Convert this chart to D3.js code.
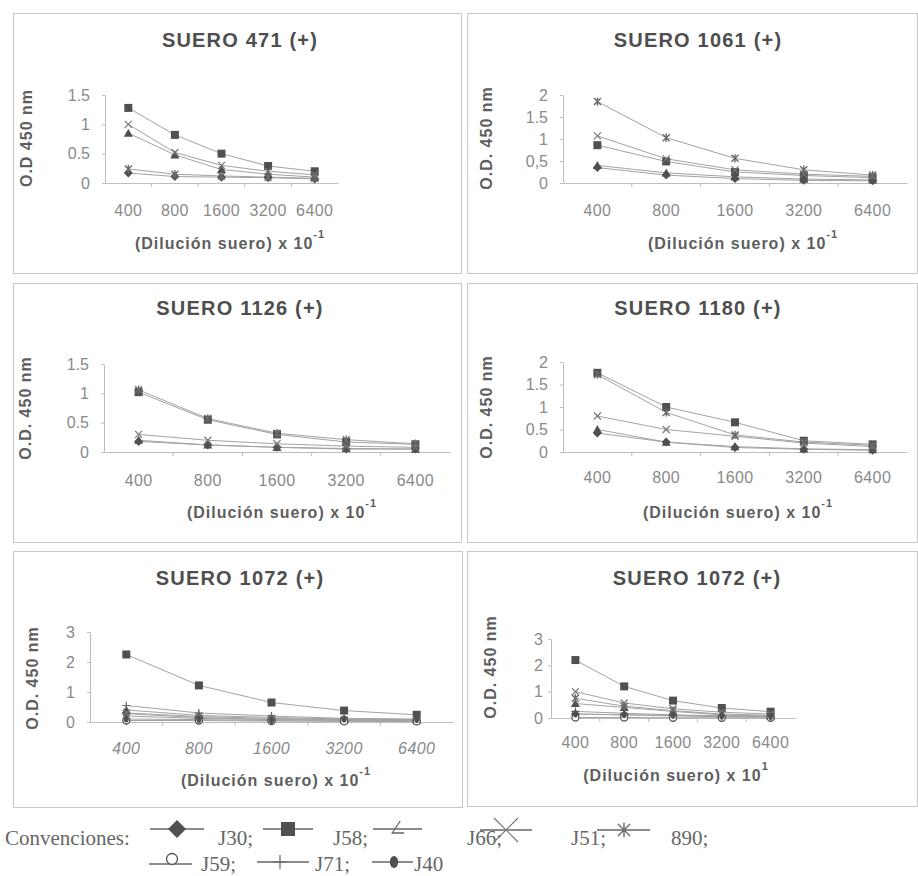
<!DOCTYPE html>
<html>
<head>
<meta charset="utf-8">
<script src="https://cdn.jsdelivr.net/npm/d3@7"></script>
<style>
  html, body { margin: 0; padding: 0; background: #fff; }
  #container { width: 918px; height: 876px; }
</style>
</head>
<body>
<div id="container"></div>
<script>
// 横轴类别：血清稀释度
const dilutions = ["400", "800", "1600", "3200", "6400"];

// 系列名称与对应的标记形状
const seriesNames = ["J30", "J58", "J66", "J51", "890", "J59", "J71", "J40"];
const seriesMarkers = ["diamond", "square", "triangle", "x", "asterisk", "circle", "plus", "dot"];

// 各子图标题与坐标轴文字
const panelTitles = ["SUERO 471 (+)", "SUERO 1061 (+)", "SUERO 1126 (+)", "SUERO 1180 (+)", "SUERO 1072 (+)", "SUERO 1072 (+)"];
const yTitles = ["O.D 450 nm", "O.D. 450 nm", "O.D. 450 nm", "O.D. 450 nm", "O.D. 450 nm", "O.D. 450 nm"];
const xTitle = "(Dilución suero) x 10";
const xTitleSup = ["-1", "-1", "-1", "-1", "-1", "1"];

// 纵轴刻度
const yTicks = [
  [0, 0.5, 1, 1.5],
  [0, 0.5, 1, 1.5, 2],
  [0, 0.5, 1, 1.5],
  [0, 0.5, 1, 1.5, 2],
  [0, 1, 2, 3],
  [0, 1, 2, 3]
];
const yTickLabels = [
  ["0", "0.5", "1", "1.5"],
  ["0", "0,5", "1", "1.5", "2"],
  ["0", "0.5", "1", "1.5"],
  ["0", "0.5", "1", "1.5", "2"],
  ["0", "1", "2", "3"],
  ["0", "1", "2", "3"]
];

// 各血清的 O.D. 数值，顺序与 seriesNames 一致（null 表示该图中没有此系列）
const suero471 = [
  [0.17, 0.11, 0.10, 0.09, 0.07],
  [1.28, 0.82, 0.50, 0.29, 0.20],
  [0.85, 0.48, 0.23, 0.15, 0.10],
  [1.00, 0.52, 0.30, 0.20, 0.14],
  [0.24, 0.15, 0.12, 0.10, 0.08],
  null, null, null
];
const suero1061 = [
  [0.35, 0.18, 0.10, 0.06, 0.05],
  [0.86, 0.49, 0.25, 0.17, 0.12],
  [0.40, 0.23, 0.14, 0.09, 0.07],
  [1.07, 0.55, 0.30, 0.20, 0.15],
  [1.85, 1.03, 0.56, 0.30, 0.18],
  null, null, null
];
const suero1126 = [
  [0.18, 0.12, 0.08, 0.05, 0.05],
  [1.02, 0.55, 0.30, 0.17, 0.13],
  [0.20, 0.12, 0.08, 0.06, 0.05],
  [0.30, 0.20, 0.14, 0.10, 0.08],
  [1.06, 0.57, 0.32, 0.21, 0.14],
  null, null, null
];
const suero1180 = [
  [0.42, 0.22, 0.10, 0.06, 0.04],
  [1.76, 1.00, 0.66, 0.25, 0.17],
  [0.50, 0.22, 0.12, 0.07, 0.05],
  [0.80, 0.50, 0.35, 0.20, 0.12],
  [1.72, 0.88, 0.38, 0.22, 0.15],
  null, null, null
];
const suero1072a = [
  [0.28, 0.15, 0.08, 0.05, 0.04],
  [2.25, 1.22, 0.65, 0.38, 0.24],
  [0.40, 0.22, 0.15, 0.10, 0.08],
  [0.30, 0.18, 0.12, 0.08, 0.06],
  [0.20, 0.12, 0.08, 0.05, 0.04],
  [0.05, 0.05, 0.03, 0.02, 0.02],
  [0.55, 0.30, 0.20, 0.12, 0.10],
  [0.10, 0.08, 0.05, 0.10, 0.08]
];
const suero1072b = [
  [0.15, 0.12, 0.08, 0.05, 0.04],
  [2.20, 1.20, 0.66, 0.38, 0.24],
  [0.55, 0.40, 0.25, 0.12, 0.08],
  [1.00, 0.57, 0.35, 0.22, 0.15],
  [0.75, 0.45, 0.28, 0.15, 0.10],
  [0.02, 0.02, 0.01, 0.01, 0.01],
  [0.25, 0.18, 0.12, 0.08, 0.06],
  [0.15, 0.12, 0.10, 0.08, 0.06]
];
const panelData = [suero471, suero1061, suero1126, suero1180, suero1072a, suero1072b];

// 版面：每个子图的边框、绘图区和文字位置
const layout = [
  { box: [13, 13, 461, 273], x: [105, 338], y0: 183, yTop: 95, yGap: 12, xPad: 22, title: [240, 47], yT: [26, 138], xT: [230, 249] },
  { box: [467, 13, 917, 273], x: [563, 907], y0: 183, yTop: 95, yGap: 12, xPad: 22, title: [698, 47], yT: [486, 138], xT: [743, 249] },
  { box: [13, 283, 461, 542], x: [104, 450], y0: 452, yTop: 364, yGap: 12, xPad: 23, title: [240, 315], yT: [25, 408], xT: [282, 518] },
  { box: [467, 283, 917, 542], x: [563, 907], y0: 452, yTop: 362, yGap: 12, xPad: 20, title: [698, 315], yT: [486, 407], xT: [738, 518] },
  { box: [13, 551, 462, 807], x: [90, 453], y0: 722, yTop: 632, yGap: 12, xPad: 21, title: [240, 585], yT: [32, 678], xT: [276, 786], italic: true },
  { box: [467, 551, 917, 806], x: [551, 795], y0: 718, yTop: 639, yGap: 5, xPad: 19, title: [697, 585], yT: [490, 667], xT: [676, 781] }
];

const sans = "'Liberation Sans', Arial, sans-serif";
const serif = "'Liberation Serif', 'Times New Roman', serif";
const markColor = "#505050";
const lineColor = "#a3a3a3";
const axisColor = "#bdbdbd";

const width = 918;
const height = 876;

const svg = d3.select("#container")
  .append("svg")
  .attr("width", width)
  .attr("height", height)
  .attr("viewBox", [0, 0, width, height]);

// 绘制一个标记，r 为半径大小
function drawMarker(g, type, r) {
  switch (type) {
    case "diamond":
      g.append("path").attr("d", `M0,${-r}L${r},0L0,${r}L${-r},0Z`).attr("fill", markColor);
      break;
    case "square":
      g.append("rect").attr("x", -r).attr("y", -r).attr("width", 2 * r).attr("height", 2 * r).attr("fill", markColor);
      break;
    case "triangle":
      g.append("path").attr("d", `M0,${-r}L${r},${r * 0.8}L${-r},${r * 0.8}Z`).attr("fill", markColor);
      break;
    case "angle":
      g.append("path").attr("d", `M${r * 0.4},${-r}L${-r * 0.6},${r * 0.5}L${r * 0.9},${r * 0.5}`)
        .attr("fill", "none").attr("stroke", "#666").attr("stroke-width", 1.3);
      break;
    case "x":
      g.append("path").attr("d", `M${-r},${-r}L${r},${r}M${-r},${r}L${r},${-r}`)
        .attr("stroke", "#777").attr("stroke-width", 1.2).attr("fill", "none");
      break;
    case "asterisk":
      g.append("path").attr("d", `M${-r},${-r}L${r},${r}M${-r},${r}L${r},${-r}M0,${-r * 1.2}L0,${r * 1.2}`)
        .attr("stroke", "#6a6a6a").attr("stroke-width", 1.4).attr("fill", "none");
      break;
    case "circle":
      g.append("circle").attr("r", r).attr("fill", "#fff").attr("stroke", markColor).attr("stroke-width", 1.3);
      break;
    case "plus":
      g.append("path").attr("d", `M${-r},0L${r},0M0,${-r}L0,${r}`)
        .attr("stroke", "#666").attr("stroke-width", 1.2).attr("fill", "none");
      break;
    case "dot":
      g.append("ellipse").attr("rx", r * 0.7).attr("ry", r).attr("fill", markColor);
      break;
  }
}

const markerSize = { diamond: 4.5, square: 4, triangle: 4.5, x: 3.5, asterisk: 3.5, circle: 3.5, plus: 4, dot: 3.5 };

panelData.forEach((data, p) => {
  const L = layout[p];
  const g = svg.append("g");

  // 边框
  g.append("rect")
    .attr("x", L.box[0] + 0.5).attr("y", L.box[1] + 0.5)
    .attr("width", L.box[2] - L.box[0]).attr("height", L.box[3] - L.box[1])
    .attr("fill", "none").attr("stroke", "#c8c8c8");

  const x = d3.scaleBand().domain(dilutions).range(L.x);
  const ticks = yTicks[p];
  const y = d3.scaleLinear().domain([0, d3.max(ticks)]).range([L.y0, L.yTop]);
  const cx = d => x(d) + x.bandwidth() / 2;

  // 纵轴
  g.append("g")
    .attr("transform", `translate(${L.x[0]},0)`)
    .call(d3.axisLeft(y).tickValues(ticks).tickSize(3).tickSizeOuter(0).tickPadding(L.yGap)
      .tickFormat((d, i) => yTickLabels[p][i]))
    .call(a => a.select(".domain").attr("stroke", axisColor))
    .call(a => a.selectAll(".tick line").attr("stroke", axisColor))
    .call(a => a.selectAll(".tick text")
      .attr("font-family", sans).attr("font-size", 16).attr("fill", "#8a8a8a"));

  // 横轴
  const gx = g.append("g")
    .attr("transform", `translate(0,${L.y0})`)
    .call(d3.axisBottom(x).tickSize(0).tickPadding(L.xPad))
    .call(a => a.select(".domain").attr("stroke", axisColor))
    .call(a => a.selectAll(".tick text")
      .attr("font-family", sans).attr("font-size", 16).attr("fill", "#8a8a8a")
      .attr("letter-spacing", 0.4)
      .attr("font-style", L.italic ? "italic" : null));
  // 类别之间的刻度线
  gx.append("g").selectAll("line")
    .data(dilutions.slice(1))
    .join("line")
    .attr("x1", d => x(d)).attr("x2", d => x(d))
    .attr("y1", 0).attr("y2", 4)
    .attr("stroke", axisColor);

  // 折线
  const line = d3.line().x((d, i) => cx(dilutions[i])).y(d => y(d));
  data.forEach((vals) => {
    if (!vals) return;
    g.append("path")
      .datum(vals)
      .attr("fill", "none")
      .attr("stroke", lineColor)
      .attr("stroke-width", 1)
      .attr("d", line);
  });

  // 数据点标记
  data.forEach((vals, s) => {
    if (!vals) return;
    const type = seriesMarkers[s];
    vals.forEach((v, i) => {
      const m = g.append("g").attr("transform", `translate(${cx(dilutions[i])},${y(v)})`);
      drawMarker(m, type, markerSize[type]);
    });
  });

  // 标题
  g.append("text")
    .attr("x", L.title[0]).attr("y", L.title[1])
    .attr("text-anchor", "middle")
    .attr("font-family", sans).attr("font-size", 20).attr("font-weight", "bold")
    .attr("letter-spacing", 1.2)
    .attr("fill", "#4e4e4e")
    .text(panelTitles[p]);

  // 纵轴标题
  g.append("text")
    .attr("transform", `translate(${L.yT[0]},${L.yT[1]}) rotate(-90)`)
    .attr("text-anchor", "middle").attr("dy", "0.35em")
    .attr("font-family", sans).attr("font-size", 16).attr("font-weight", "bold")
    .attr("letter-spacing", 1)
    .attr("fill", "#5e5e5e")
    .text(yTitles[p]);

  // 横轴标题（带上标）
  const xt = g.append("text")
    .attr("x", L.xT[0]).attr("y", L.xT[1])
    .attr("text-anchor", "middle")
    .attr("font-family", sans).attr("font-size", 16).attr("font-weight", "bold")
    .attr("letter-spacing", 1)
    .attr("fill", "#5e5e5e");
  xt.append("tspan").text(xTitle);
  xt.append("tspan").attr("dy", -11).attr("font-size", 11).text(xTitleSup[p]);
});

// 图例
const legendLayout = [
  { line: [150, 204], y: 829, m: 177, r: 9, tx: 218, ty: 845 },
  { line: [263, 313], y: 829, m: 288, r: 7, tx: 333, ty: 845 },
  { line: [373, 422], y: 829, m: 397, r: 8, tx: 467, ty: 845, shape: "angle" },
  { line: [480, 532], y: 830, m: 506, r: 12, tx: 571, ty: 845 },
  { line: [597, 650], y: 830, m: 624, r: 6, tx: 671, ty: 845 },
  { line: [149, 192], y: 864, m: 172, my: -5, r: 5.5, tx: 201, ty: 871 },
  { line: [257, 309], y: 862, m: 280, r: 7, tx: 315, ty: 871 },
  { line: [372, 413], y: 862, m: 394, r: 6, tx: 414, ty: 871 }
];
const legendSuffix = [";", ";", ";", ";", ";", ";", ";", ""];

const legend = svg.append("g");
legend.append("text")
  .attr("x", 5).attr("y", 845)
  .attr("font-family", serif).attr("font-size", 21).attr("fill", "#666")
  .text("Convenciones:");

seriesNames.forEach((name, s) => {
  const Lg = legendLayout[s];
  legend.append("line")
    .attr("x1", Lg.line[0]).attr("x2", Lg.line[1])
    .attr("y1", Lg.y).attr("y2", Lg.y)
    .attr("stroke", "#666").attr("stroke-width", 1.6);
  const m = legend.append("g").attr("transform", `translate(${Lg.m},${Lg.y + (Lg.my || 0)})`);
  drawMarker(m, Lg.shape || seriesMarkers[s], Lg.r);
  legend.append("text")
    .attr("x", Lg.tx).attr("y", Lg.ty)
    .attr("font-family", serif).attr("font-size", 21).attr("fill", "#666")
    .text(name + legendSuffix[s]);
});
</script>
</body>
</html>
